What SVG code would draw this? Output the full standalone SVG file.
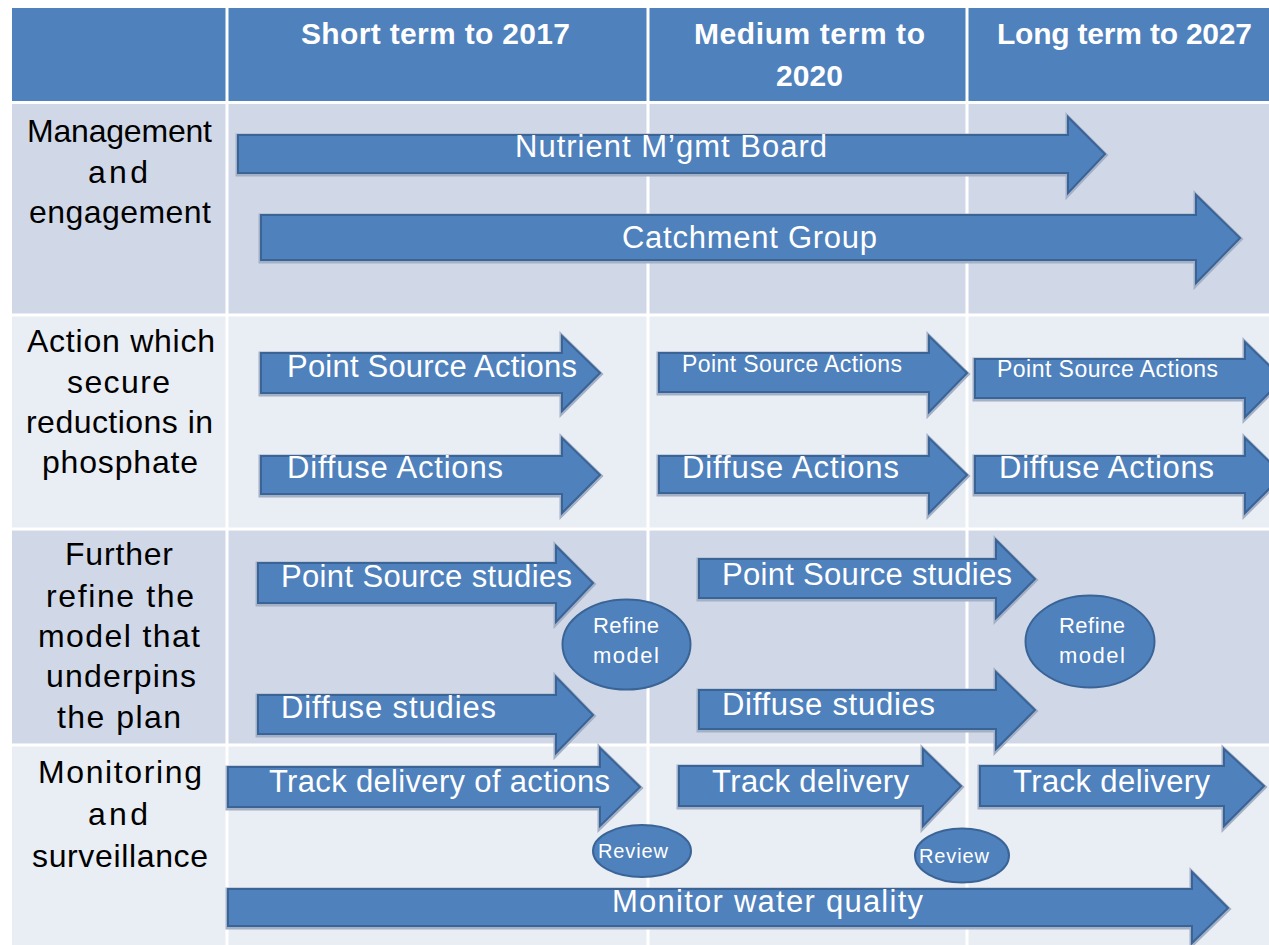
<svg xmlns="http://www.w3.org/2000/svg" width="1269" height="945" viewBox="0 0 1269 945">
<defs>
<style>
.hdr{fill:#4F81BD}
.dark{fill:#D0D8E8}
.light{fill:#E9EDF4}
.grid{stroke:#FFFFFF;stroke-width:3;fill:none}
.ht{font-family:"Liberation Sans",Arial,sans-serif;font-size:30px;font-weight:bold;fill:#FFFFFF}
.lt{font-family:"Liberation Sans",Arial,sans-serif;font-size:32px;fill:#000000}
.at{font-family:"Liberation Sans",Arial,sans-serif;font-size:31px;fill:#FFFFFF}
.st{font-family:"Liberation Sans",Arial,sans-serif;font-size:23px;fill:#FFFFFF}
.et{font-family:"Liberation Sans",Arial,sans-serif;font-size:22px;fill:#FFFFFF}
.rt{font-family:"Liberation Sans",Arial,sans-serif;font-size:20px;fill:#FFFFFF}
.sh{fill:none;stroke:#A3B0C6;stroke-width:5;stroke-linejoin:miter}
.ar{fill:#4F81BD;stroke:#3B6496;stroke-width:2;stroke-linejoin:miter}
.el{fill:#4F81BD;stroke:#3B6496;stroke-width:2}
</style>
</defs>
<rect width="1269" height="945" fill="#FFFFFF"/>
<g id="table">
<rect class="hdr" x="12" y="8" width="1257" height="93"/>
<rect class="dark" x="12" y="104" width="1257" height="211"/>
<rect class="light" x="12" y="315" width="1257" height="214"/>
<rect class="dark" x="12" y="529" width="1257" height="216"/>
<rect class="light" x="12" y="745" width="1257" height="200"/>
<path class="grid" d="M12,102.5 H1269 M12,315 H1269 M12,529 H1269 M12,745 H1269"/>
<path class="grid" d="M227,8 V945 M648,8 V945 M967,8 V945"/>
</g>
<g id="header">
<text class="ht" x="301" y="44" textLength="269">Short term to 2017</text>
<text class="ht" x="694" y="44" textLength="231">Medium term to</text>
<text class="ht" x="776" y="86" textLength="67">2020</text>
<text class="ht" x="997" y="44" textLength="255">Long term to 2027</text>
</g>
<g id="row-labels">
<text class="lt" x="27" y="142" textLength="185">Management</text>
<text class="lt" x="88" y="183" textLength="60">and</text>
<text class="lt" x="29" y="223" textLength="182">engagement</text>
<text class="lt" x="27" y="352" textLength="188">Action which</text>
<text class="lt" x="67" y="393" textLength="103">secure</text>
<text class="lt" x="26" y="433" textLength="187">reductions in</text>
<text class="lt" x="42" y="473" textLength="156">phosphate</text>
<text class="lt" x="65" y="565" textLength="108">Further</text>
<text class="lt" x="46" y="607" textLength="148">refine the</text>
<text class="lt" x="38" y="647" textLength="162">model that</text>
<text class="lt" x="46" y="687" textLength="150">underpins</text>
<text class="lt" x="57" y="728" textLength="124">the plan</text>
<text class="lt" x="38" y="783" textLength="164">Monitoring</text>
<text class="lt" x="88" y="825" textLength="60">and</text>
<text class="lt" x="32" y="867" textLength="176">surveillance</text>
</g>
<g id="connectors">
<g id="arrow-nutrient">
<path class="sh" d="M238,136 H1068 V118 L1105,155 L1068,194 V174 H238 Z"/>
<path class="ar" d="M238,135 H1068 V117 L1105,154 L1068,193 V173 H238 Z"/>
<text class="at" x="515" y="157" textLength="312">Nutrient M’gmt Board</text>
</g>
<g id="arrow-catchment">
<path class="sh" d="M261,216 H1196 V196 L1240,239 L1196,284 V261 H261 Z"/>
<path class="ar" d="M261,215 H1196 V195 L1240,238 L1196,283 V260 H261 Z"/>
<text class="at" x="622" y="248" textLength="255">Catchment Group</text>
</g>
<g id="arrow-psa1">
<path class="sh" d="M261,354 H562 V337 L600,374 L562,412 V394 H261 Z"/>
<path class="ar" d="M261,353 H562 V336 L600,373 L562,411 V393 H261 Z"/>
<text class="at" x="287" y="377" textLength="290">Point Source Actions</text>
</g>
<g id="arrow-da1">
<path class="sh" d="M261,457 H562 V439 L600,476 L562,514 V495 H261 Z"/>
<path class="ar" d="M261,456 H562 V438 L600,475 L562,513 V494 H261 Z"/>
<text class="at" x="287" y="478" textLength="216">Diffuse Actions</text>
</g>
<g id="arrow-psa2">
<path class="sh" d="M659,354 H929 V337 L967,374 L929,413 V393 H659 Z"/>
<path class="ar" d="M659,353 H929 V336 L967,373 L929,412 V392 H659 Z"/>
<text class="st" x="682" y="372" textLength="220">Point Source Actions</text>
</g>
<g id="arrow-psa3">
<path class="sh" d="M975,360 H1245 V343 L1283,380 L1245,418 V399 H975 Z"/>
<path class="ar" d="M975,359 H1245 V342 L1283,379 L1245,417 V398 H975 Z"/>
<text class="st" x="997" y="377" textLength="221">Point Source Actions</text>
</g>
<g id="arrow-da2">
<path class="sh" d="M659,457 H929 V439 L967,476 L929,514 V494 H659 Z"/>
<path class="ar" d="M659,456 H929 V438 L967,475 L929,513 V493 H659 Z"/>
<text class="at" x="682" y="478" textLength="217">Diffuse Actions</text>
</g>
<g id="arrow-da3">
<path class="sh" d="M975,457 H1245 V439 L1283,476 L1245,514 V494 H975 Z"/>
<path class="ar" d="M975,456 H1245 V438 L1283,475 L1245,513 V493 H975 Z"/>
<text class="at" x="999" y="478" textLength="215">Diffuse Actions</text>
</g>
<g id="arrow-pss1">
<path class="sh" d="M258,564 H556 V547 L593,584 L556,623 V604 H258 Z"/>
<path class="ar" d="M258,563 H556 V546 L593,583 L556,622 V603 H258 Z"/>
<text class="at" x="281" y="587" textLength="291">Point Source studies</text>
</g>
<g id="arrow-ds1">
<path class="sh" d="M258,696 H556 V678 L593,716 L556,754 V735 H258 Z"/>
<path class="ar" d="M258,695 H556 V677 L593,715 L556,753 V734 H258 Z"/>
<text class="at" x="281" y="718" textLength="215">Diffuse studies</text>
</g>
<g id="arrow-pss2">
<path class="sh" d="M699,560 H996 V541 L1035,580 L996,619 V599 H699 Z"/>
<path class="ar" d="M699,559 H996 V540 L1035,579 L996,618 V598 H699 Z"/>
<text class="at" x="722" y="585" textLength="290">Point Source studies</text>
</g>
<g id="arrow-ds2">
<path class="sh" d="M699,691 H996 V673 L1035,711 L996,750 V730 H699 Z"/>
<path class="ar" d="M699,690 H996 V672 L1035,710 L996,749 V729 H699 Z"/>
<text class="at" x="722" y="715" textLength="213">Diffuse studies</text>
</g>
<g id="arrow-tda">
<path class="sh" d="M228,768 H600 V749 L640,788 L600,827 V808 H228 Z"/>
<path class="ar" d="M228,767 H600 V748 L640,787 L600,826 V807 H228 Z"/>
<text class="at" x="269" y="792" textLength="341">Track delivery of actions</text>
</g>
<g id="arrow-td2">
<path class="sh" d="M679,767 H923 V750 L961,787 L923,827 V807 H679 Z"/>
<path class="ar" d="M679,766 H923 V749 L961,786 L923,826 V806 H679 Z"/>
<text class="at" x="712" y="792" textLength="197">Track delivery</text>
</g>
<g id="arrow-td3">
<path class="sh" d="M980,767 H1224 V750 L1264,787 L1224,827 V807 H980 Z"/>
<path class="ar" d="M980,766 H1224 V749 L1264,786 L1224,826 V806 H980 Z"/>
<text class="at" x="1013" y="792" textLength="197">Track delivery</text>
</g>
<g id="arrow-mwq">
<path class="sh" d="M228,890 H1192 V873 L1228,909 L1192,944 V927 H228 Z"/>
<path class="ar" d="M228,889 H1192 V872 L1228,908 L1192,943 V926 H228 Z"/>
<text class="at" x="612" y="912" textLength="311">Monitor water quality</text>
</g>
</g>
<g id="refine-model-1">
<ellipse class="el" cx="626.5" cy="644.5" rx="64" ry="45"/>
<text class="et" x="593" y="633" textLength="66">Refine</text>
<text class="et" x="593" y="663" textLength="66">model</text>
</g>
<g id="refine-model-2">
<ellipse class="el" cx="1090" cy="641.5" rx="64.5" ry="46"/>
<text class="et" x="1059" y="633" textLength="66">Refine</text>
<text class="et" x="1059" y="663" textLength="66">model</text>
</g>
<g id="review-1">
<ellipse class="el" cx="642" cy="851" rx="49" ry="26"/>
<text class="rt" x="598" y="858" textLength="70">Review</text>
</g>
<g id="review-2">
<ellipse class="el" cx="962" cy="855.5" rx="47" ry="27"/>
<text class="rt" x="919" y="863" textLength="70">Review</text>
</g>
</svg>
